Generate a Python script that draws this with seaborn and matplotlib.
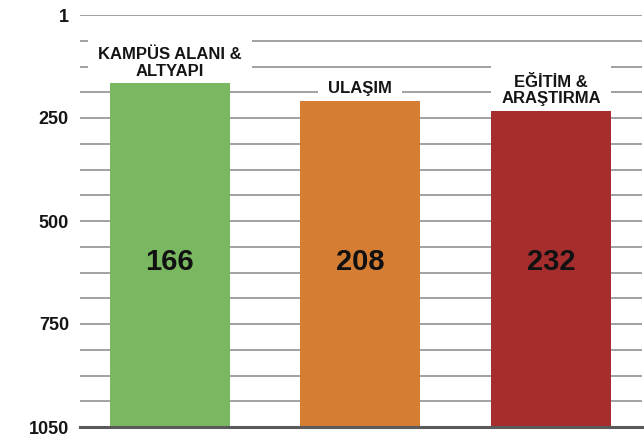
import matplotlib
matplotlib.use("Agg")
import matplotlib.pyplot as plt
import matplotlib.transforms as mtransforms
import numpy as np
import pandas as pd
import seaborn as sns

# ---- data ----
categories = ["KAMPÜS ALANI &\nALTYAPI", "ULAŞIM", "EĞİTİM &\nARAŞTIRMA"]
ranks = [166, 208, 232]
tick_values = [1, 250, 500, 750, 1050]
tick_labels = ["1", "250", "500", "750", "1050"]
colors = ["#79b760", "#d67d34", "#a62d2d"]

BASE = tick_values[-1]

sns.set_theme(style="white")
plt.rcParams["font.family"] = ["Liberation Sans", "DejaVu Sans"]

fig = plt.figure(figsize=(6.44, 4.37), dpi=100)
ax = fig.add_axes([80 / 644, 1 - 427 / 437, 562 / 644, 412 / 437])

df = pd.DataFrame({"category": categories,
                   "height": np.array(ranks, dtype=float) - BASE})

sns.barplot(data=df, x="category", y="height", hue="category",
            palette=colors, saturation=1, width=0.63, bottom=BASE,
            legend=False, ax=ax, zorder=2, linewidth=0)

# evenly spaced rank axis (as in the reference)
pos = np.arange(len(tick_values), dtype=float)


def fwd(v):
    return np.interp(v, tick_values, pos)


def inv(p):
    return np.interp(p, pos, tick_values)


ax.set_yscale("function", functions=(fwd, inv))
ax.set_ylim(BASE, tick_values[0])
ax.set_xlim(-0.472, 2.478)

minor_pos = inv(np.linspace(0, pos[-1], 4 * (len(tick_values) - 1) + 1))
ax.set_yticks(tick_values)
ax.set_yticklabels(tick_labels, fontsize=13, fontweight="bold", color="#151515")
ax.set_yticks(minor_pos, minor=True)
ax.tick_params(axis="y", which="both", length=0, pad=8)
ax.grid(False)
ax.grid(True, axis="y", which="both", color="#888888", linewidth=1.1)
ax.set_axisbelow(True)

ax.set_xticks([])
ax.set_xlabel("")
ax.set_ylabel("")
for s in ["top", "left", "right"]:
    ax.spines[s].set_visible(False)
ax.spines["bottom"].set_color("#5a5a5a")
ax.spines["bottom"].set_linewidth(2.2)
ax.spines["bottom"].set_zorder(5)

# category labels above bars (white boxes hide the grid, sit under the bars)
for i, (cat, r) in enumerate(zip(categories, ranks)):
    ax.annotate(cat, xy=(i, r), xytext=(0, 3), textcoords="offset points",
                ha="center", va="bottom", fontsize=12, fontweight="bold",
                color="#151515", linespacing=1.15, zorder=1.5,
                bbox=dict(boxstyle="square,pad=0.6", fc="white", ec="none"))

# values inside bars
trans = mtransforms.blended_transform_factory(ax.transData, ax.transAxes)
for i, r in enumerate(ranks):
    ax.text(i, 0.40, str(r), transform=trans, ha="center", va="center",
            fontsize=21, fontweight="bold", color="#111111", zorder=4)

fig.savefig("out.png", dpi=100)
